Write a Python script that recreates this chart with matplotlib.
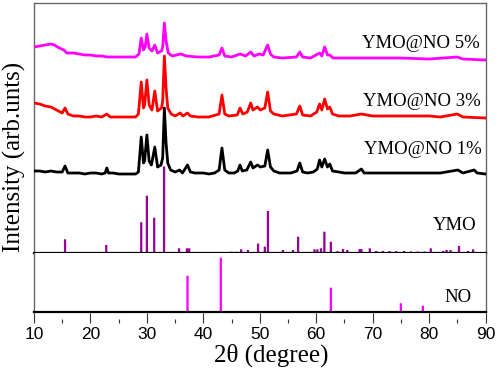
import matplotlib
matplotlib.use('Agg')
import matplotlib.pyplot as plt
from matplotlib.ticker import MultipleLocator

# ---------------- data (arbitrary units) ----------------
tt_1 = [10, 11, 12, 13, 14, 15.0, 15.5, 16.0, 17, 18, 19, 20, 21, 22, 22.6, 22.9, 23.2, 24, 25, 26, 27, 28,
        28.5, 29.0, 29.4, 29.6, 30.0, 30.4, 30.8, 31.4, 31.9, 32.5, 32.8, 33.1, 33.4, 33.7, 34.2, 35, 35.8,
        36.3, 37.2, 37.7, 38.5, 40, 41, 42, 42.8, 43.3, 43.8, 44.5, 45.5, 46.1, 46.5, 46.9, 47.7, 48.4, 48.8,
        49.6, 50.1, 50.9, 51.4, 51.9, 52.5, 53.5, 54.5, 55.5, 56.6, 57.1, 57.6, 58.5, 59.5, 60.2, 60.6, 61.0,
        61.5, 62.0, 62.4, 62.9, 64, 65, 66, 67, 68.0, 68.5, 70, 72, 75, 78, 80, 82, 85.1, 86, 88, 88.5, 90]
int_1 = [82, 82, 81, 82, 81, 81, 87, 80, 80, 80, 79, 80, 80, 79, 80, 85, 80, 80, 79, 79, 79, 79,
         81, 116, 90, 92, 118, 92, 88, 106, 86, 88, 95, 145, 110, 90, 83, 81, 83,
         80, 88, 81, 80, 80, 79, 80, 83, 105, 83, 80, 80, 82, 88, 82, 83, 91, 85,
         88, 86, 87, 103, 86, 82, 80, 80, 80, 82, 90, 81, 80, 81, 84, 93, 86,
         94, 86, 89, 82, 81, 80, 80, 80, 84, 80, 80, 80, 80, 80, 80, 80, 83, 80, 83, 80, 79]

tt_3 = [10, 11, 12, 13, 14, 15.0, 15.5, 16.0, 17, 18, 19, 20, 21, 22, 22.9, 23.5, 25, 26, 27, 28,
        28.5, 29.0, 29.4, 29.6, 30.0, 30.4, 30.9, 31.4, 31.9, 32.6, 32.8, 33.1, 33.4, 33.7, 34.3, 35, 35.9,
        36.4, 37.2, 37.7, 39, 41, 42.8, 43.3, 43.8, 44.5, 46.0, 46.5, 47.0, 47.8, 48.4, 48.8, 49.6, 50.1,
        50.9, 51.4, 51.9, 52.5, 54, 56.5, 57.1, 57.6, 59, 60.1, 60.6, 61.0, 61.5, 62.0, 62.4, 62.9, 64, 66,
        68.0, 70, 75, 80, 82, 85, 86, 90]
int_3 = [150, 149, 147, 146, 143, 140, 145, 139, 137, 137, 136, 136, 137, 136, 139, 136, 136, 136, 136, 136,
         139, 171, 145, 148, 173, 148, 143, 162, 142, 145, 152, 197, 165, 145, 139, 137, 140,
         137, 140, 137, 136, 136, 139, 158, 139, 137, 138, 145, 139, 141, 150, 143, 146, 143,
         145, 161, 142, 139, 137, 139, 147, 138, 137, 141, 149, 143, 154, 144, 146, 139, 137, 137,
         139, 137, 137, 137, 136, 139, 136, 135]

tt_5 = [10, 11, 12, 13, 13.6, 14.5, 15.3, 15.8, 17, 18, 19, 20, 21, 22, 23, 24, 25, 26, 27, 28,
        28.6, 29.0, 29.4, 29.7, 30.0, 30.4, 30.9, 31.4, 31.9, 32.6, 32.8, 33.1, 33.4, 33.8, 34.5, 36.0, 37,
        39, 41, 42.8, 43.3, 43.8, 45, 46.5, 47.5, 48.4, 49.0, 49.9, 50.6, 51.4, 51.9, 52.5, 54, 56.5, 57.1,
        57.6, 59, 60.6, 61.0, 61.5, 62.0, 62.4, 63, 65, 70, 75, 80, 85, 86, 90]
int_5 = [206, 207, 208, 209, 208, 205, 203, 200, 200, 199, 198, 198, 197, 197, 196, 196, 196, 196, 196, 196,
         199, 215, 203, 206, 219, 205, 202, 208, 200, 202, 206, 230, 212, 200, 197, 199, 197,
         196, 196, 198, 205, 197, 196, 199, 197, 201, 197, 199, 198, 208, 199, 196, 195, 196, 201,
         196, 195, 200, 197, 206, 198, 198, 195, 195, 195, 195, 194, 196, 194, 193]

ymo_pos = [15.5, 22.8, 29.0, 30.0, 31.3, 33.05, 35.7, 37.1, 37.5, 45.0, 45.9, 46.7, 47.9, 49.7, 50.9,
           51.45, 54.1, 55.9, 56.8, 59.7, 60.2, 60.85, 61.45, 62.6, 63.8, 64.75, 65.5, 67.7, 68.0, 69.5,
           70.65, 71.8, 73.0, 74.2, 75.6, 76.8, 78.0, 79.2, 80.3, 82.5, 83.1, 83.8, 85.3, 86.9, 87.8]
ymo_int = [13.7, 8, 30.7, 57.3, 35.3, 86.5, 4.7, 4.7, 4.7, 1.3, 1.3, 3.7, 3, 9.5, 6.3,
           42, 3, 3, 16.3, 3.7, 3.7, 4.7, 21.3, 11.3, 2, 4, 3, 4, 4, 4.7,
           2, 2, 2, 2, 2, 1.5, 1.5, 1.5, 4.7, 2, 3, 3, 7, 2, 3.7]

no_pos = [37.2, 43.1, 62.6, 75.0, 78.9]
no_int = [36.3, 54.3, 24.3, 8.7, 6.3]

x_ticks = [10, 20, 30, 40, 50, 60, 70, 80, 90]
sample_labels = ['YMO@NO 1%', 'YMO@NO 3%', 'YMO@NO 5%']

# ---------------- figure ----------------
W, H = 498, 370
fig = plt.figure(figsize=(W / 100, H / 100), dpi=100)
L, R = 34, 485.5
ax1 = fig.add_axes([L / W, 1 - 253 / H, (R - L) / W, (253 - 3) / H])
ax2 = fig.add_axes([L / W, 1 - 312 / H, (R - L) / W, (312 - 253) / H])

serif = 'Liberation Serif'
sans = 'Liberation Sans'
gray = '#666666'

for ax in (ax1, ax2):
    ax.set_xlim(10, 90)
    for s in ('left', 'right', 'top'):
        ax.spines[s].set_color(gray)
        ax.spines[s].set_linewidth(1.0)
    ax.set_yticks([])

ax1.set_ylim(0, 250)
ax2.set_ylim(0, 59)

ax1.spines['bottom'].set_color('black')
ax1.spines['bottom'].set_linewidth(1.6)
ax2.spines['top'].set_visible(False)
ax1.tick_params(bottom=False, labelbottom=False)

bar_w = 0.4
b1 = ax1.bar(ymo_pos, ymo_int, width=bar_w, color='#990099', linewidth=0, zorder=1)
for p in b1:
    p.set_snap(False)
ax1.plot(tt_1, int_1, color='black', lw=2.0, zorder=3)
ax1.plot(tt_3, int_3, color='#FF0000', lw=2.0, zorder=3)
ax1.plot(tt_5, int_5, color='#FF00FF', lw=2.0, zorder=3)

lab_y = [103, 151, 209]
lab_x = [89.3, 89.1, 88.9]
for t, x, y in zip(sample_labels, lab_x, lab_y):
    ax1.text(x, y, t, ha='right', va='center', fontsize=13.5, family=serif)
ax1.text(88.4, 27.4, 'YMO', ha='right', va='center', fontsize=13.5, family=serif)

b2 = ax2.bar(no_pos, no_int, width=bar_w, color='#FF00FF', linewidth=0, zorder=1)
for p in b2:
    p.set_snap(False)
ax2.axhline(0, color='black', lw=1.6, zorder=3, clip_on=False)
ax2.text(87.5, 15, 'NO', ha='right', va='center', fontsize=13.5, family=serif)

ax2.spines['bottom'].set_position(('outward', 8))
ax2.spines['bottom'].set_color('none')
ax2.set_xticks(x_ticks)
ax2.xaxis.set_minor_locator(MultipleLocator(5))
ax2.tick_params(axis='x', which='major', direction='in', length=7.2, width=0.8, color='#333333',
                pad=3, labelsize=12.5)
ax2.tick_params(axis='x', which='minor', direction='in', length=3, width=0.8, color='#333333')
for lab in ax2.get_xticklabels():
    lab.set_family(sans)

fig.text(271.5 / W, 1 - 361.5 / H, '2θ (degree)', ha='center', va='baseline', fontsize=18, family=serif)
fig.text(14 / W, 1 - 157 / H, 'Intensity (arb.unts)', rotation=90, ha='center', va='center',
         fontsize=18, family=serif)

fig.savefig('out.png', dpi=100)
